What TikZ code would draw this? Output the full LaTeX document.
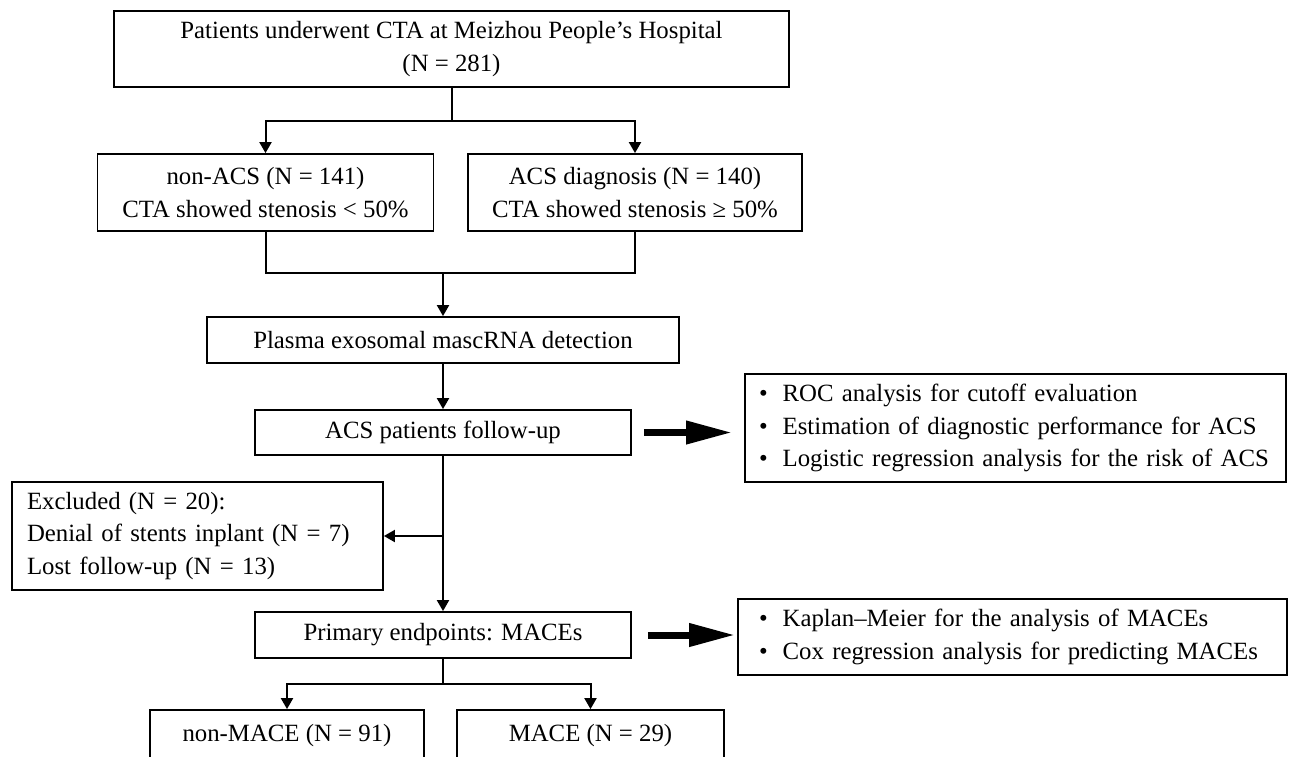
\documentclass[tikz,border=0pt]{standalone}
\usepackage{fontspec}
\setmainfont{Liberation Serif}
\usetikzlibrary{arrows.meta, positioning, calc}

\begin{document}
\begin{tikzpicture}[
  x=0.5pt, y=-0.5pt,
  box/.style={draw, line width=0.9pt, inner sep=0pt, align=center,
  font=\fontsize{12.4}{16.3}\selectfont},
  listbox/.style={box, align=left, inner xsep=7pt},
  line/.style={line width=1pt},
  arr/.style={-{Triangle[length=5.5pt,width=6pt]}, line width=1pt},
  bigarr/.style={-{Triangle[length=23pt,width=11pt]}, line width=3.5pt}
]
\useasboundingbox (0,0) rectangle (1289,756);
\node[box, minimum width=337.5pt, minimum height=38pt] (cta) at (451.5,48.8)
  {Patients underwent CTA at Meizhou People’s Hospital\\(N = 281)};
\node[box, minimum width=168pt, minimum height=38.5pt] (nonacs) at (265.5,192.5)
  {non-ACS (N = 141)\\CTA showed stenosis < 50\%};
\node[box, minimum width=167pt, minimum height=38.5pt] (acs) at (635,192.5)
  {ACS diagnosis (N = 140)\\CTA showed stenosis ≥ 50\%};
\node[box, minimum width=236pt, minimum height=23pt] (plasma) at (443,340)
  {Plasma exosomal mascRNA detection};
\node[box, minimum width=188pt, minimum height=22.5pt] (follow) at (443,432.5)
  {ACS patients follow-up};
\node[listbox, text width=256.5pt, minimum height=54pt] (roc) at (1015.5,428)
  {\textbullet\hspace{7.5pt}ROC analysis for cutoff evaluation\\
   \textbullet\hspace{7.5pt}Estimation of diagnostic performance for ACS\\
   \textbullet\hspace{7.5pt}Logistic regression analysis for the risk of ACS};
\node[listbox, inner xsep=7.5pt, text width=170.5pt, minimum height=54pt] (excl) at (197.5,536)
  {Excluded (N = 20):\\Denial of stents inplant (N = 7)\\Lost follow-up (N = 13)};
\node[box, minimum width=188pt, minimum height=23pt] (primary) at (443,635)
  {Primary endpoints: MACEs};
\node[listbox, inner xsep=10.5pt, text width=253.5pt, minimum height=38pt] (km) at (1012.5,637)
  {\textbullet\hspace{7.5pt}Kaplan--Meier for the analysis of MACEs\\
   \textbullet\hspace{7.5pt}Cox regression analysis for predicting MACEs};
\node[box, minimum width=137pt, minimum height=26pt] (nonmace) at (287,736)
  {non-MACE (N = 91)};
\node[box, minimum width=133.5pt, minimum height=26pt] (mace) at (590.5,736)
  {MACE (N = 29)};
\coordinate (split1) at (451.5,120.7);
\coordinate (merge) at (443,273);
\coordinate (exclsplit) at (follow.south |- excl.east);
\coordinate (split2) at (443,684);
\draw[line] (cta.south) -- (split1);
\draw[arr] (split1) -| (nonacs.north);
\draw[arr] (split1) -| (acs.north);
\draw[line] (nonacs.south) |- (merge) -| (acs.south);
\draw[arr] (merge) -- (plasma.north);
\draw[arr] (plasma.south) -- (follow.north);
\draw[arr] (follow.south) -- (primary.north);
\draw[arr] (exclsplit) -- (excl.east);
\draw[bigarr, shorten <=6pt, shorten >=6pt] (follow.east) -- (follow.east -| roc.west);
\draw[bigarr, shorten <=8pt, shorten >=1pt] (primary.east) -- (primary.east -| km.west);
\draw[line] (primary.south) -- (split2);
\draw[arr] (split2) -| (nonmace.north);
\draw[arr] (split2) -| (mace.north);
\end{tikzpicture}
\end{document}
